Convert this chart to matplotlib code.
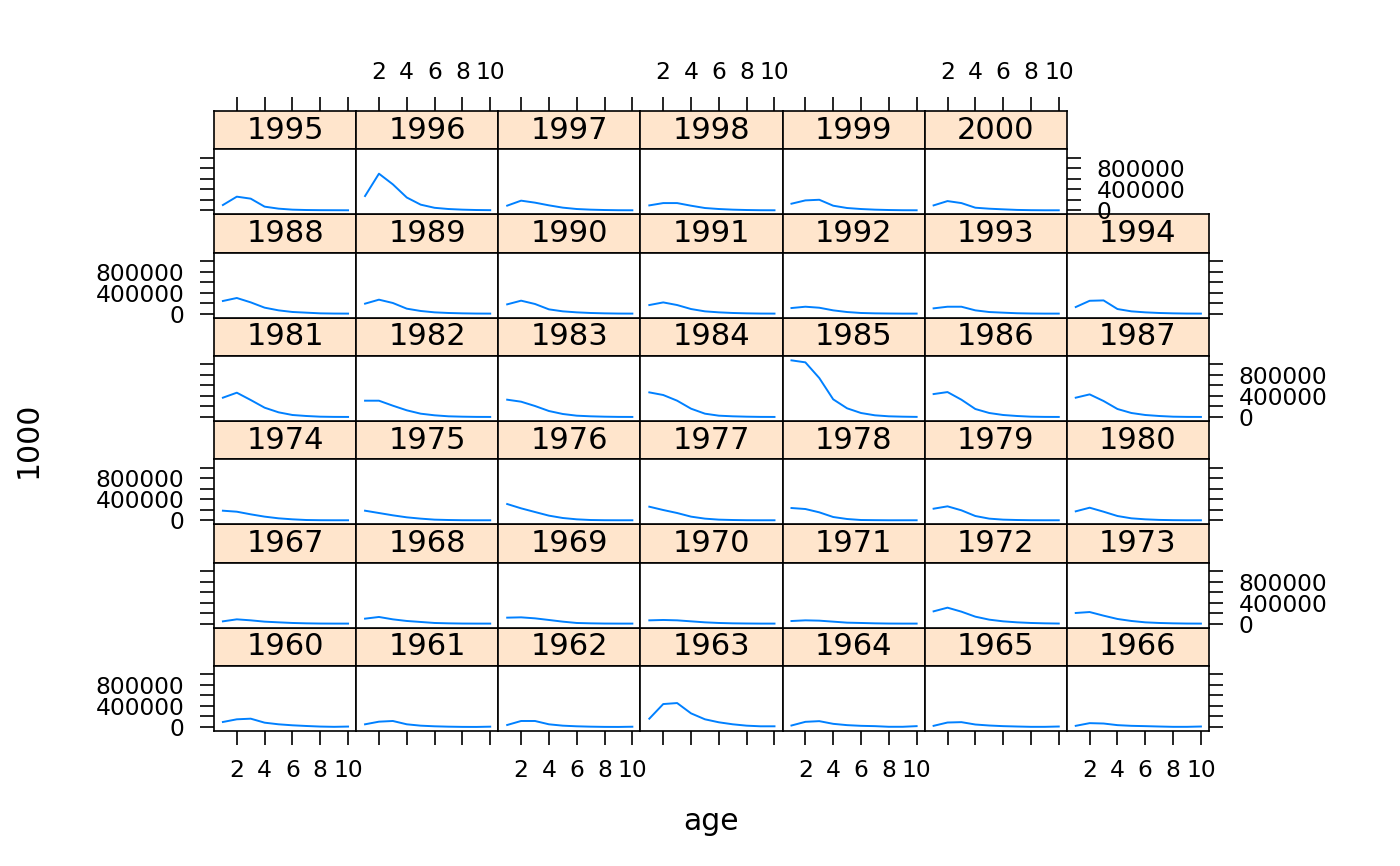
import matplotlib
matplotlib.use("Agg")
import matplotlib.pyplot as plt
from matplotlib.ticker import FixedLocator, FixedFormatter

ages = [1, 2, 3, 4, 5, 6, 7, 8, 9, 10]

y1960 = [95000, 146000, 158000, 82000, 51000, 32000, 19000, 8000, 3000, 8000]
y1961 = [51000, 101000, 114000, 51000, 25000, 13000, 6000, 2000, 1000, 6000]
y1962 = [38000, 114000, 114000, 51000, 25000, 13000, 6000, 2000, 1000, 5000]
y1963 = [158000, 436000, 455000, 259000, 146000, 89000, 51000, 25000, 13000, 13000]
y1964 = [28000, 98000, 111000, 60000, 35000, 22000, 16000, 4000, 4000, 16000]
y1965 = [22000, 85000, 92000, 47000, 28000, 16000, 9000, 3000, 3000, 9000]
y1966 = [22000, 73000, 66000, 35000, 22000, 16000, 9000, 3000, 3000, 9000]
y1967 = [44000, 82000, 63000, 38000, 25000, 13000, 6000, 2000, 1000, 1000]
y1968 = [95000, 127000, 82000, 51000, 32000, 13000, 6000, 2000, 1000, 1000]
y1969 = [114000, 120000, 101000, 70000, 38000, 13000, 6000, 2000, 1000, 1000]
y1970 = [63000, 70000, 63000, 44000, 25000, 13000, 6000, 3000, 1000, 1000]
y1971 = [50000, 63000, 57000, 38000, 19000, 13000, 6000, 2000, 1000, 1000]
y1972 = [234000, 304000, 228000, 133000, 76000, 44000, 25000, 13000, 6000, 2000]
y1973 = [203000, 221000, 152000, 89000, 51000, 25000, 13000, 6000, 2000, 1000]
y1974 = [183000, 164000, 114000, 70000, 38000, 19000, 6000, 2000, 1000, 1000]
y1975 = [183000, 139000, 95000, 57000, 32000, 13000, 6000, 2000, 1000, 1000]
y1976 = [310000, 228000, 158000, 89000, 44000, 19000, 6000, 2000, 1000, 1000]
y1977 = [259000, 196000, 139000, 70000, 32000, 13000, 6000, 2000, 1000, 1000]
y1978 = [234000, 215000, 152000, 63000, 25000, 6000, 3000, 1000, 1000, 1000]
y1979 = [221000, 266000, 190000, 82000, 32000, 13000, 6000, 2000, 1000, 1000]
y1980 = [171000, 240000, 164000, 82000, 38000, 19000, 8000, 3000, 1000, 1000]
y1981 = [367000, 462000, 323000, 177000, 89000, 38000, 19000, 6000, 2000, 1000]
y1982 = [310000, 310000, 215000, 127000, 63000, 32000, 13000, 6000, 2000, 1000]
y1983 = [329000, 291000, 209000, 114000, 57000, 25000, 13000, 6000, 2000, 1000]
y1984 = [468000, 418000, 310000, 158000, 63000, 25000, 13000, 6000, 2000, 1000]
y1985 = [1077000, 1039000, 741000, 336000, 165000, 76000, 32000, 13000, 6000, 2000]
y1986 = [436000, 474000, 329000, 152000, 76000, 38000, 19000, 6000, 2000, 1000]
y1987 = [367000, 430000, 304000, 152000, 76000, 38000, 19000, 6000, 2000, 1000]
y1988 = [241000, 298000, 215000, 114000, 63000, 32000, 19000, 6000, 2000, 1000]
y1989 = [190000, 266000, 203000, 95000, 51000, 25000, 13000, 6000, 2000, 1000]
y1990 = [177000, 247000, 184000, 82000, 44000, 25000, 13000, 6000, 2000, 1000]
y1991 = [164000, 214000, 164000, 88000, 44000, 25000, 13000, 6000, 2000, 1000]
y1992 = [107000, 132000, 113000, 63000, 31000, 13000, 6000, 3000, 1000, 1000]
y1993 = [101000, 132000, 132000, 63000, 31000, 19000, 8000, 3000, 1000, 1000]
y1994 = [126000, 245000, 252000, 88000, 44000, 25000, 13000, 6000, 2000, 1000]
y1995 = [101000, 260000, 222000, 70000, 32000, 13000, 6000, 3000, 2000, 1000]
y1996 = [272000, 697000, 494000, 244000, 108000, 48000, 25000, 13000, 6000, 3000]
y1997 = [89000, 184000, 146000, 95000, 51000, 25000, 13000, 6000, 2000, 1000]
y1998 = [94000, 138000, 138000, 88000, 44000, 25000, 13000, 6000, 2000, 1000]
y1999 = [126000, 189000, 201000, 88000, 44000, 25000, 13000, 6000, 2000, 1000]
y2000 = [94000, 176000, 138000, 50000, 31000, 19000, 8000, 3000, 1000, 1000]

years = list(range(1960, 2001))
series = [y1960, y1961, y1962, y1963, y1964, y1965, y1966, y1967, y1968, y1969,
          y1970, y1971, y1972, y1973, y1974, y1975, y1976, y1977, y1978, y1979,
          y1980, y1981, y1982, y1983, y1984, y1985, y1986, y1987, y1988, y1989,
          y1990, y1991, y1992, y1993, y1994, y1995, y1996, y1997, y1998, y1999,
          y2000]

xticks = [2, 4, 6, 8, 10]
yticks = [0, 200000, 400000, 600000, 800000, 1000000]
ylabels = ["0", "", "400000", "", "800000", ""]

W, H = 1400, 866
fig = plt.figure(figsize=(W / 100, H / 100), dpi=100)

# layout in pixels (lattice-like)
left, top = 214, 111
cw = 142.14
strip_h, panel_h = 38.33, 65.0
row_h = strip_h + panel_h
ncol, nrow = 7, 6
xlim = (0.36, 10.58)
ylim = (-76000, 1160000)
blue = "#0080ff"
strip_col = "#ffe5cc"
tick_len = 10.3
tick_fs = 16.8
lw_box = 1.2


def rect(x0, ytop, w, h):
    return [x0 / W, 1 - (ytop + h) / H, w / W, h / H]


for i, yr in enumerate(years):
    rb = i // ncol
    c = i % ncol
    r = nrow - 1 - rb
    x0 = left + c * cw
    y0 = top + r * row_h
    last_in_row = (c == ncol - 1) or (yr == years[-1])

    # strip
    sax = fig.add_axes(rect(x0, y0, cw, strip_h))
    sax.set_facecolor(strip_col)
    sax.set_xlim(xlim)
    sax.set_ylim(0, 1)
    sax.text(0.5, 0.5, str(yr), transform=sax.transAxes, ha="center",
             va="center", fontsize=22)
    for sp in sax.spines.values():
        sp.set_linewidth(lw_box)
    sax.set_yticks([])
    if r == 0:
        sax.xaxis.set_ticks_position("top")
        sax.set_xticks(xticks)
        sax.tick_params(axis="x", direction="out", length=tick_len, width=1.2,
                        labelsize=tick_fs, pad=9, top=True, bottom=False,
                        labeltop=(c % 2 == 1), labelbottom=False)
    else:
        sax.set_xticks([])

    # panel
    ax = fig.add_axes(rect(x0, y0 + strip_h, cw, panel_h))
    ax.plot(ages, series[i], color=blue, lw=1.4)
    ax.set_xlim(xlim)
    ax.set_ylim(ylim)
    for sp in ax.spines.values():
        sp.set_linewidth(lw_box)

    if rb == 0:
        ax.set_xticks(xticks)
        ax.tick_params(axis="x", direction="out", length=tick_len, width=1.2,
                       labelsize=tick_fs, pad=10, labelbottom=(c % 2 == 0))
    else:
        ax.set_xticks([])

    if c == 0 or last_in_row:
        ax.yaxis.set_major_locator(FixedLocator(yticks))
        ax.yaxis.set_major_formatter(FixedFormatter(ylabels))
        ax.tick_params(axis="y", direction="out", length=tick_len, width=1.2,
                       labelsize=tick_fs, pad=11,
                       left=(c == 0), labelleft=(c == 0 and r % 2 == 1),
                       right=last_in_row,
                       labelright=(last_in_row and r % 2 == 0))
        if last_in_row:
            ax.set_zorder(5)
    else:
        ax.set_yticks([])

fig.text((left + ncol * cw / 2) / W, 1 - 822 / H, "age", ha="center",
         va="center", fontsize=21.5)
fig.text(28 / W, 1 - 440 / H, "1000", ha="center", va="center",
         rotation=90, fontsize=21.5)

fig.savefig("out.png", dpi=100)
